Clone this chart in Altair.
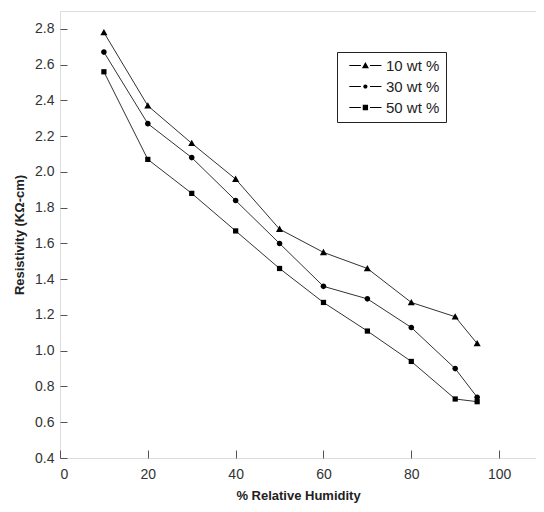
import altair as alt
import pandas as pd

humidity = [10, 20, 30, 40, 50, 60, 70, 80, 90, 95]
series_names = ["10 wt %", "30 wt %", "50 wt %"]
res_10 = [2.78, 2.37, 2.16, 1.96, 1.68, 1.55, 1.46, 1.27, 1.19, 1.04]
res_30 = [2.67, 2.27, 2.08, 1.84, 1.60, 1.36, 1.29, 1.13, 0.90, 0.74]
res_50 = [2.56, 2.07, 1.88, 1.67, 1.46, 1.27, 1.11, 0.94, 0.73, 0.715]
y_ticks = [0.4, 0.6, 0.8, 1.0, 1.2, 1.4, 1.6, 1.8, 2.0, 2.2, 2.4, 2.6, 2.8]
x_ticks = [0, 20, 40, 60, 80, 100]

rows = []
for name, vals in zip(series_names, [res_10, res_30, res_50]):
    for h, v in zip(humidity, vals):
        rows.append({"rh": h, "res": v, "series": name})
df = pd.DataFrame(rows)

FONT = "Liberation Sans"

marker_paths = [
    "M0,-0.95L0.95,0.75L-0.95,0.75Z",
    "M0.75,0A0.75,0.75 0 1,1 -0.75,0A0.75,0.75 0 1,1 0.75,0Z",
    "M-0.7,-0.7H0.7V0.7H-0.7Z",
]
# legend glyphs: short dash, marker, short dash (dashes drawn as thin filled bars)
DASHES = "M-1.6,-0.07H0.05V0.07H-1.6ZM1.35,-0.07H3.0V0.07H1.35Z"
legend_paths = [
    DASHES + "M0.7,-0.5L1.2,0.4L0.2,0.4Z",
    DASHES + "M1.0,0A0.3,0.3 0 1,1 0.4,0A0.3,0.3 0 1,1 1.0,0Z",
    DASHES + "M0.32,-0.38H1.08V0.38H0.32Z",
]

x_enc = alt.X(
    "rh:Q",
    scale=alt.Scale(domain=[0, 108.4], nice=False),
    axis=alt.Axis(
        values=x_ticks, format="d", title="% Relative Humidity",
        domain=False, grid=False, offset=-8, tickSize=8, tickColor="#555",
        labelPadding=9, labelFont=FONT, labelFontSize=14, labelColor="#333",
        titleFont=FONT, titleFontSize=13, titleFontWeight="bold",
        titleColor="#222", titlePadding=8,
    ),
)
y_enc = alt.Y(
    "res:Q",
    scale=alt.Scale(domain=[0.4, 2.9], nice=False, zero=False),
    axis=alt.Axis(
        values=y_ticks, format=".1f", title="Resistivity (KΩ-cm)",
        domain=False, grid=False, offset=-7, tickSize=7, tickColor="#555",
        labelPadding=6, labelOverlap=False, tickCount=13,
        labelFont=FONT, labelFontSize=14, labelColor="#333",
        titleFont=FONT, titleFontSize=13, titleFontWeight="bold",
        titleColor="#222", titlePadding=8,
    ),
)

base = alt.Chart(df).encode(x=x_enc, y=y_enc)

lines = base.mark_line(color="#333", strokeWidth=1).encode(detail="series:N")

points = base.mark_point(filled=True, color="black", size=56, opacity=1).encode(
    shape=alt.Shape("series:N", scale=alt.Scale(domain=series_names, range=marker_paths), legend=None),
)

legend_layer = base.transform_filter("false").mark_point(
    filled=True, fill="black", stroke="black", strokeWidth=1, opacity=1
).encode(
    shape=alt.Shape(
        "series:N",
        scale=alt.Scale(domain=series_names, range=legend_paths),
        legend=alt.Legend(
            title=None, orient="none", legendX=277, legendY=41,
            padding=6, rowPadding=5, strokeColor="#222", fillColor="white",
            symbolSize=196, symbolOffset=10, labelOffset=18,
            symbolFillColor="black", symbolStrokeColor="black",
            symbolStrokeWidth=0, symbolOpacity=1,
            labelFont=FONT, labelFontSize=15, labelColor="#222",
        ),
    ),
)

chart = (
    alt.layer(lines, points, legend_layer)
    .resolve_scale(shape="independent")
    .properties(
        width=476, height=447,
        autosize=alt.AutoSizeParams(type="none"),
        padding={"left": 52, "top": 3, "right": 0, "bottom": 46},
    )
    .configure_view(stroke="#555", strokeWidth=1)
    .configure_axis(labelOverlap=False)
    .configure(background="white")
)

chart.save("out.html", embed_options={"renderer": "svg", "actions": False})
